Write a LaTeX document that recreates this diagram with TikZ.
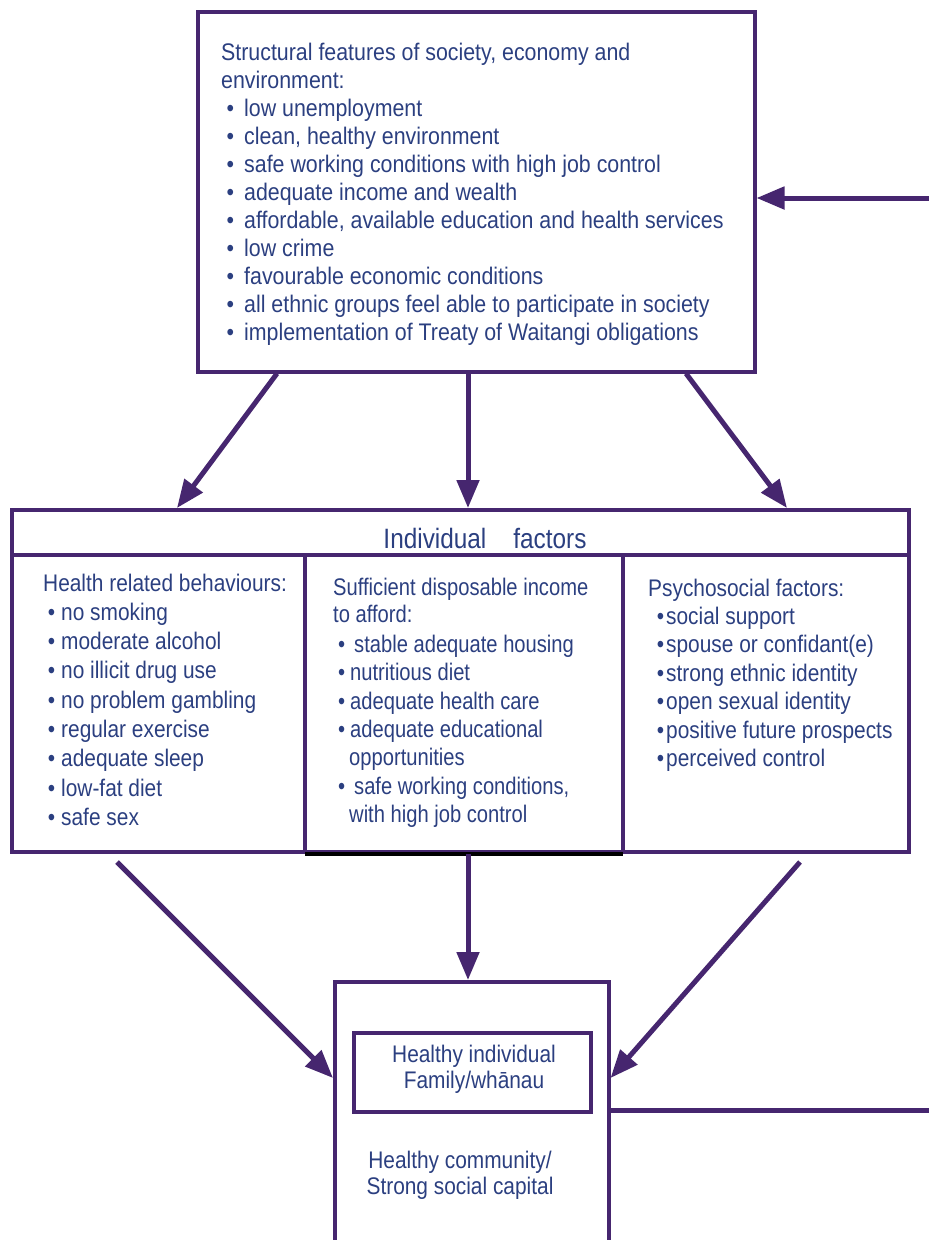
\documentclass[tikz,border=0pt]{standalone}
\usepackage{fontspec}
\setmainfont{Liberation Sans}[FakeStretch=0.89]
\newfontfamily\lowfont{Liberation Sans}[FakeStretch=0.87]
\newfontfamily\midfont{Liberation Sans}[FakeStretch=0.84]
\usetikzlibrary{arrows.meta,calc}
\definecolor{linec}{HTML}{46266F}
\definecolor{textc}{HTML}{2B3F80}
\newcommand{\bul}[1]{\llap{\textbullet\hspace{#1pt}}}
\begin{document}
\begin{tikzpicture}[x=1pt,y=-1pt,
  box/.style={draw=linec, line width=3.5pt, fill=none, inner sep=0pt},
  arr/.style={draw=linec, line width=5pt, -{Triangle[length=28pt,width=22pt]}},
  txt/.style={anchor=base west, inner sep=0pt, text=textc, font=\fontsize{24}{28}\selectfont},
  ltxt/.style={txt, font=\lowfont\fontsize{24}{28}\selectfont},
  mtxt/.style={txt, font=\midfont\fontsize{24}{28}\selectfont},
  ctxt/.style={inner sep=0pt, text=textc, align=center, font=\lowfont\fontsize{24}{26}\selectfont},
  sep/.style={draw=linec, line width=3.5pt}]
\useasboundingbox (0,0) rectangle (929,1240);

% top box
\node[box, anchor=north west, minimum width=557pt, minimum height=360pt] (top) at (196,10) {};
\node[txt] (th1) at (221,60) {Structural features of society, economy and};
\node[txt] (th2) at (221,88) {environment:};
\foreach \t [count=\i] in {low unemployment, {clean, healthy environment},
  safe working conditions with high job control, adequate income and wealth,
  {affordable, available education and health services}, low crime,
  favourable economic conditions, all ethnic groups feel able to participate in society,
  implementation of Treaty of Waitangi obligations}
  \node[txt] (tb\i) at (244,88+28*\i) {\bul{10}\t};

% feedback arrow into top box
\coordinate (rin) at (929,198);
\draw[arr] (rin) -- (rin -| top.east);

% individual factors box
\node[box, anchor=north west, minimum width=897pt, minimum height=342pt] (ind) at (10,508) {};
\coordinate (hdl) at ($(ind.north west)+(0,47)$);
\coordinate (hdr) at ($(ind.north east)+(0,47)$);
\draw[sep] (hdl) -- (hdr);
\coordinate (c1t) at (305,555);
\coordinate (c2t) at (623,555);
\draw[sep] (c1t) -- (c1t |- ind.south);
\draw[sep] (c2t) -- (c2t |- ind.south);
\draw[black, line width=4pt] (c1t |- ind.south) -- (c2t |- ind.south);
\node[ctxt, anchor=base, font=\lowfont\fontsize{28}{30}\selectfont] (indh) at (485,548) {Individual\hspace{27pt}factors};

% arrows top -> individual
\draw[arr] ($(top.south west)+(81,0)$) -- ($(ind.north west)+(167,0)$);
\draw[arr] ($(top.south west)+(272,0)$) -- ($(ind.north west)+(458,0)$);
\draw[arr] ($(top.south west)+(490,0)$) -- ($(ind.north west)+(777,0)$);

% left column
\node[ltxt] (lh) at (43,591) {Health related behaviours:};
\foreach \t [count=\i] in {no smoking, moderate alcohol, no illicit drug use,
  no problem gambling, regular exercise, adequate sleep, low-fat diet, safe sex}
  \node[ltxt] (lb\i) at (61,591+29.3*\i) {\bul{6}\t};

% middle column
\node[mtxt] (mh1) at (333,595) {Sufficient disposable income};
\node[mtxt] (mh2) at (333,622) {to afford:};
\node[mtxt] (mb1) at (354,652) {\bul{9}stable adequate housing};
\node[mtxt] (mb2) at (350,680) {\bul{5}nutritious diet};
\node[mtxt] (mb3) at (350,709) {\bul{5}adequate health care};
\node[mtxt] (mb4) at (350,737) {\bul{5}adequate educational};
\node[mtxt] (mb5) at (349,765) {opportunities};
\node[mtxt] (mb6) at (354,794) {\bul{9}safe working conditions,};
\node[mtxt] (mb7) at (349,822) {with high job control};

% right column
\node[ltxt] (rh) at (648,596) {Psychosocial factors:};
\foreach \t [count=\i] in {social support, spouse or confidant(e), strong ethnic identity,
  open sexual identity, positive future prospects, perceived control}
  \node[ltxt] (rb\i) at (666,596+28.4*\i) {\bul{2}\t};

% bottom box
\node[box, anchor=north west, minimum width=274pt, minimum height=300pt] (hb) at (333,980) {};
\node[box, anchor=north west, minimum width=237pt, minimum height=79pt] (hi) at (352,1031) {};
\node[ctxt] (hit) at (474,1069) {Healthy individual\\Family/whānau};
\node[ctxt] (hct) at (460,1175) {Healthy community/\\Strong social capital};

% arrows individual -> bottom
\coordinate (a1s) at (117,862);
\coordinate (a3s) at (800,862);
\draw[arr] (a1s) -- (hb.west |- 0,1078);
\draw[arr] ($(ind.south west)+(458,0)$) -- (hb.north -| {$(ind.south west)+(458,0)$});
\draw[arr] (a3s) -- (hb.east |- 0,1078);

% feedback line out
\coordinate (rout) at (929,1110);
\draw[sep, line width=5pt] (hb.east |- rout) -- (rout);
\end{tikzpicture}
\end{document}
